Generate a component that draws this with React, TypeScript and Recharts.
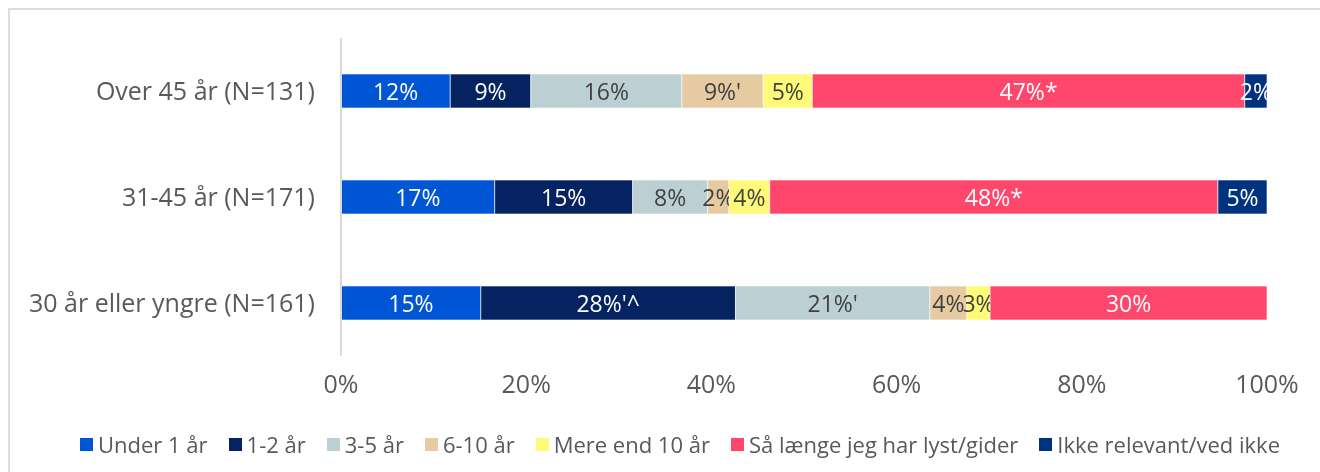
import React from "react";
import { BarChart, Bar, XAxis, YAxis, LabelList, Legend } from "recharts";

const categories = ["Over 45 år (N=131)", "31-45 år (N=171)", "30 år eller yngre (N=161)"];

const seriesNames = [
  "Under 1 år",
  "1-2 år",
  "3-5 år",
  "6-10 år",
  "Mere end 10 år",
  "Så længe jeg har lyst/gider",
  "Ikke relevant/ved ikke",
];
const seriesColors = ["#0055D4", "#052261", "#BCD0D4", "#E6CBA2", "#FFFB78", "#FF476C", "#00337F"];
const labelColors = ["#FFFFFF", "#FFFFFF", "#404040", "#404040", "#404040", "#FFFFFF", "#FFFFFF"];

const under1Values = [11.8, 16.6, 15.1];
const oneTwoValues = [8.7, 14.9, 27.5];
const threeFiveValues = [16.3, 8.1, 21.0];
const sixTenValues = [8.8, 2.3, 4.0];
const over10Values = [5.3, 4.4, 2.5];
const soLongValues = [46.7, 48.4, 29.9];
const notRelevantValues = [2.4, 5.3, 0];

const under1Labels = ["12%", "17%", "15%"];
const oneTwoLabels = ["9%", "15%", "28%'^"];
const threeFiveLabels = ["16%", "8%", "21%'"];
const sixTenLabels = ["9%'", "2%", "4%"];
const over10Labels = ["5%", "4%", "3%"];
const soLongLabels = ["47%*", "48%*", "30%"];
const notRelevantLabels = ["2%", "5%", ""];

const xTicks = [0, 20, 40, 60, 80, 100];

const allValues = [under1Values, oneTwoValues, threeFiveValues, sixTenValues, over10Values, soLongValues, notRelevantValues];
const allLabels = [under1Labels, oneTwoLabels, threeFiveLabels, sixTenLabels, over10Labels, soLongLabels, notRelevantLabels];

const data = categories.map((group, i) => {
  const row: Record<string, string | number> = { group };
  allValues.forEach((vals, s) => {
    row[`s${s}`] = vals[i];
    row[`l${s}`] = allLabels[s][i];
  });
  return row;
});

const FONT = "'Open Sans', sans-serif";

const makeLabel = (color: string, idx: number) => (props: any) => {
  const vb = props.viewBox || props;
  const x = Number(vb.x ?? props.x);
  const y = Number(vb.y ?? props.y);
  const w = Number(vb.width ?? props.width);
  const h = Number(vb.height ?? props.height);
  const value = props.value;
  if (!value) return null;
  const clipId = `clip-${idx}-${props.index}`;
  return (
    <g>
      <defs>
        <clipPath id={clipId}>
          <rect x={x - 200} y={y} width={w + 200} height={h} />
        </clipPath>
      </defs>
      <text
        x={x + w / 2}
        y={y + h / 2}
        textAnchor="middle"
        dominantBaseline="central"
        fill={color}
        fontSize={23}
        fontFamily={FONT}
        clipPath={`url(#${clipId})`}
      >
        {value}
      </text>
    </g>
  );
};

const LegendContent = () => (
  <div
    style={{
      display: "flex",
      justifyContent: "center",
      alignItems: "center",
      fontFamily: FONT,
      fontSize: 22,
      color: "#595959",
      height: 30,
      whiteSpace: "nowrap",
    }}
  >
    {seriesNames.map((name, i) => (
      <div key={name} style={{ display: "flex", alignItems: "center", marginRight: i < seriesNames.length - 1 ? 21 : 0 }}>
        <div style={{ width: 13, height: 13, background: seriesColors[i], marginRight: 5 }} />
        <span>{name}</span>
      </div>
    ))}
  </div>
);

export default function App() {
  return (
    <div
      style={{
        position: "fixed",
        top: 8,
        left: 8,
        width: 1312,
        height: 464,
        boxSizing: "border-box",
        borderTop: "2px solid #DCDCDC",
        borderLeft: "2px solid #DCDCDC",
        overflow: "hidden",
      }}
    >
      <BarChart
        width={1310}
        height={462}
        data={data}
        layout="vertical"
        margin={{ top: 28, right: 53, bottom: 36, left: 0 }}
        barSize={34}
      >
        <XAxis
          type="number"
          domain={[0, 100]}
          ticks={xTicks}
          tickFormatter={(v: number) => `${v}%`}
          axisLine={false}
          tickLine={false}
          tickSize={0}
          tickMargin={19}
          height={50}
          tick={{ fill: "#595959", fontSize: 25, fontFamily: FONT }}
          interval={0}
        />
        <YAxis
          type="category"
          dataKey="group"
          width={331}
          axisLine={{ stroke: "#D9D9D9", strokeWidth: 2 }}
          tickLine={false}
          tickSize={0}
          tickMargin={26}
          tick={{ fill: "#595959", fontSize: 25, fontFamily: FONT }}
        />
        <Legend
          verticalAlign="bottom"
          height={30}
          content={<LegendContent />}
          wrapperStyle={{ top: 419, left: 30, width: 1280 }}
        />
        {seriesNames.map((name, s) => (
          <Bar
            key={name}
            dataKey={`s${s}`}
            name={name}
            stackId="a"
            fill={seriesColors[s]}
            stroke="#FFFFFF"
            strokeWidth={0.6}
            isAnimationActive={false}
          >
            <LabelList dataKey={`l${s}`} content={makeLabel(labelColors[s], s)} />
          </Bar>
        ))}
      </BarChart>
    </div>
  );
}
